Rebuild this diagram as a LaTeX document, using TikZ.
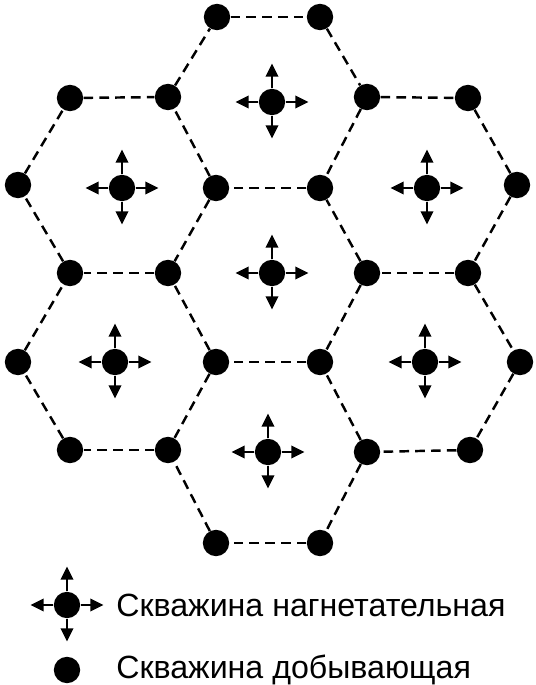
\documentclass[tikz,border=0pt]{standalone}
\usepackage{fontspec}
\setmainfont{Liberation Sans}
\usetikzlibrary{arrows.meta,positioning}

\tikzset{
    well/.style={circle, fill=black, inner sep=0pt, minimum size=15pt},
    inj/.style={circle, fill=black, inner sep=0pt, minimum size=15pt},
    flow/.style={-{Triangle[length=7.5pt, width=7pt]}, line width=1.4pt},
    grid/.style={line width=1.4pt, dash pattern=on 5.5pt off 3.5pt}
}

\begin{document}
\begin{tikzpicture}[x=0.02cm, y=-0.02cm]
    \useasboundingbox (0,0) rectangle (535,685);

    % Production wells (grid vertices)
    \foreach \n/\x/\y in {a1/217/17, a2/320/17,
        b1/70/98, b2/168/97, b3/367/97, b4/468/98,
        c1/18/185, c2/216/188, c3/320/188, c4/517/185,
        d1/70/273, d2/168/273, d3/367/273, d4/468/273,
        e1/18/362, e2/216/362, e3/320/362, e4/520/362,
        f1/70/450, f2/168/450, f3/367/452, f4/470/450,
        g1/216/543, g2/320/543}
        \node[well] (\n) at (\x,\y) {};

    % Hexagon edges
    \foreach \a/\b in {a1/a2, a2/b3, b3/c3, c3/c2, c2/b2, b2/a1,
        b1/b2, c2/d2, d2/d1, d1/c1, c1/b1,
        b3/b4, b4/c4, c4/d4, d4/d3, d3/c3,
        d3/e3, e3/e2, e2/d2,
        e2/f2, f2/f1, f1/e1, e1/d1,
        d4/e4, e4/f4, f4/f3, f3/e3,
        f3/g2, g2/g1, g1/f2}
        \draw[grid] (\a) -- (\b);

    % Injection wells
    \foreach \n/\x/\y in {i1/272/102, i2/122/188, i3/427/188, i4/272/273,
        i5/115/362, i6/425/362, i7/268/452, leg/67/605} {
        \node[inj] (\n) at (\x,\y) {};
        \draw[flow] (\n.east) -- ++(23,0);
        \draw[flow] (\n.west) -- ++(-23,0);
        \draw[flow] (\n.north) -- ++(0,-25);
        \draw[flow] (\n.south) -- ++(0,23);
    }

    % Legend
    \node[anchor=west, inner sep=0pt, font=\fontsize{18.3}{20}\selectfont] (legtxt) at (116,605) {Скважина нагнетательная};
    \node[well] (legp) at (67,670) {};
    \node[anchor=west, inner sep=0pt, font=\fontsize{18.3}{20}\selectfont] (legptxt) at (116,670) {Скважина добывающая};
\end{tikzpicture}
\end{document}
